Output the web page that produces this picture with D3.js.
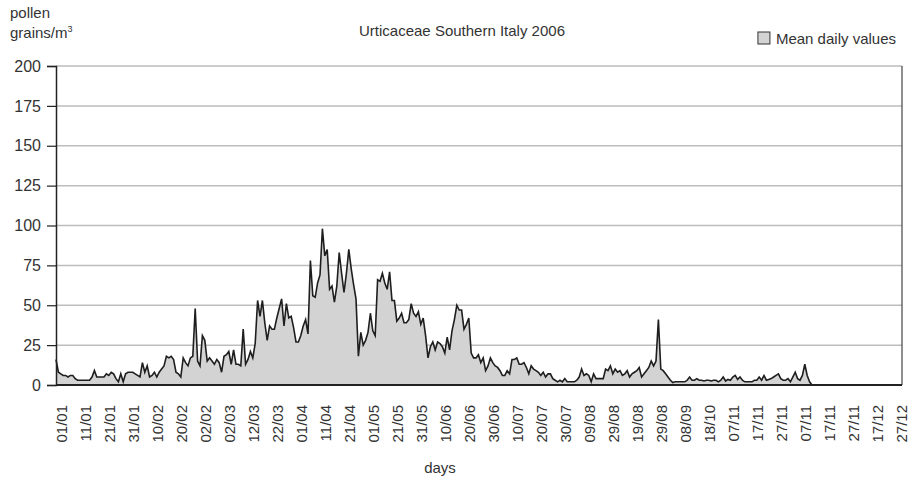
<!DOCTYPE html>
<html>
<head>
<meta charset="utf-8">
<script src="https://cdn.jsdelivr.net/npm/d3@7"></script>
<style>
  body { margin: 0; background: #fff; }
  svg text { font-family: "Liberation Sans", Arial, sans-serif; fill: #333; }
</style>
</head>
<body>
<div id="chart"></div>
<script>
// tick labels as printed under the x axis (one every 10 days)
const tickLabels = ["01/01","11/01","21/01","31/01","10/02","20/02","02/02","02/03","12/03","22/03",
  "01/04","11/04","21/04","01/05","21/05","31/05","10/06","20/06","30/06","10/07",
  "20/07","30/07","09/08","29/08","19/08","29/08","08/09","18/10","07/11","17/11",
  "27/11","07/11","17/11","27/11","17/12","27/12"];

const yTicks = [0, 25, 50, 75, 100, 125, 150, 175, 200];

// mean daily values, pollen grains/m3, day 0 = 01/01
const meanDaily = [
  16, 8, 7, 6, 6, 5, 6, 6, 4, 3,
  3, 3, 3, 3, 3, 5, 9, 5, 5, 5,
  5, 7, 6, 8, 7, 4, 2, 7, 2, 7,
  8, 8, 8, 7, 6, 5, 14, 8, 12, 5,
  6, 8, 5, 8, 10, 12, 18, 17, 18, 16,
  8, 7, 5, 17, 14, 12, 17, 18, 48, 15,
  12, 31, 28, 15, 17, 15, 13, 16, 14, 8,
  18, 19, 21, 13, 22, 13, 13, 12, 35, 13,
  16, 21, 17, 26, 53, 43, 53, 39, 28, 37,
  35, 35, 42, 48, 54, 37, 51, 42, 43, 36,
  27, 27, 31, 37, 41, 32, 78, 56, 55, 64,
  69, 98, 81, 85, 60, 62, 52, 62, 83, 70,
  58, 70, 85, 73, 63, 54, 18, 33, 25, 28,
  33, 45, 34, 31, 66, 65, 70, 64, 60, 71,
  53, 53, 40, 42, 45, 39, 39, 41, 51, 45,
  43, 46, 38, 42, 31, 17, 24, 27, 22, 27,
  26, 24, 20, 30, 22, 34, 41, 50, 47, 47,
  35, 38, 42, 20, 17, 17, 19, 14, 17, 9,
  12, 17, 14, 12, 11, 9, 6, 6, 9, 7,
  16, 16, 17, 13, 13, 14, 11, 7, 12, 10,
  9, 8, 6, 8, 5, 7, 7, 4, 3, 2,
  3, 2, 4, 2, 2, 2, 2, 3, 5, 10,
  6, 7, 6, 2, 7, 4, 4, 4, 4, 10,
  9, 12, 7, 10, 8, 9, 6, 7, 9, 5,
  7, 8, 9, 11, 5, 7, 9, 11, 15, 12,
  15, 41, 10, 9, 7, 5, 3, 1.5, 2, 2,
  2, 2, 2, 3, 5, 3, 3, 4, 3, 3,
  2.5, 3, 3, 2.5, 3, 3, 2, 3, 5, 2.5,
  3.5, 3, 5, 6, 3.5, 5, 3, 2, 2, 2,
  2, 3, 3, 5, 3, 6, 3, 3.5, 4, 5,
  6, 7, 4, 3, 3, 4, 2, 5, 8, 4,
  3, 6, 13, 6, 2, 0
];

const width = 911;
const height = 484;
const margin = { top: 66, right: 9, bottom: 99, left: 56 };
const plotW = width - margin.left - margin.right;
const plotH = height - margin.top - margin.bottom;

const svg = d3.select("#chart")
  .append("svg")
  .attr("width", width)
  .attr("height", height);

// x axis has ~352 day slots across the plot, labels every 10 days
const xScale = d3.scaleLinear()
  .domain([0, 352.5])
  .range([margin.left, margin.left + plotW]);

const yScale = d3.scaleLinear()
  .domain([0, 200])
  .range([margin.top + plotH, margin.top]);

// gridlines
svg.append("g")
  .selectAll("line")
  .data(yTicks.filter(d => d > 0))
  .enter()
  .append("line")
  .attr("x1", margin.left)
  .attr("x2", margin.left + plotW)
  .attr("y1", d => yScale(d))
  .attr("y2", d => yScale(d))
  .attr("stroke", "#bdbdbd")
  .attr("stroke-width", 1.5);

// right border of plot area
svg.append("line")
  .attr("x1", margin.left + plotW)
  .attr("x2", margin.left + plotW)
  .attr("y1", yScale(200))
  .attr("y2", yScale(0))
  .attr("stroke", "#444")
  .attr("stroke-width", 1.2);

// area + line
const area = d3.area()
  .x((d, i) => xScale(i))
  .y0(yScale(0))
  .y1(d => yScale(d));

const line = d3.line()
  .x((d, i) => xScale(i))
  .y(d => yScale(d));

svg.append("path")
  .datum(meanDaily)
  .attr("d", area)
  .attr("fill", "#d3d3d3");

svg.append("path")
  .datum(meanDaily)
  .attr("d", line)
  .attr("fill", "none")
  .attr("stroke", "#1e1e1e")
  .attr("stroke-width", 1.6)
  .attr("stroke-linejoin", "miter");

// y axis
const yAxis = svg.append("g")
  .attr("transform", "translate(" + margin.left + ",0)")
  .call(d3.axisLeft(yScale).tickValues(yTicks).tickSize(9).tickPadding(6));
yAxis.select(".domain").attr("stroke", "#222").attr("stroke-width", 1.5);
yAxis.selectAll(".tick line").attr("stroke", "#222").attr("stroke-width", 1.2);
yAxis.selectAll("text").style("font-size", "16px").attr("fill", "#333");

// x axis baseline
svg.append("line")
  .attr("x1", margin.left)
  .attr("x2", margin.left + plotW)
  .attr("y1", yScale(0))
  .attr("y2", yScale(0))
  .attr("stroke", "#222")
  .attr("stroke-width", 1.8);

// x tick labels, rotated
svg.append("g")
  .selectAll("text")
  .data(tickLabels)
  .enter()
  .append("text")
  .attr("transform", (d, i) => "translate(" + (xScale(i * 10) + 5.5) + "," + 405 + ") rotate(-90)")
  .attr("dy", "0.35em")
  .attr("text-anchor", "end")
  .style("font-size", "15px")
  .text(d => d);

// titles
svg.append("text")
  .attr("x", 462)
  .attr("y", 36)
  .attr("text-anchor", "middle")
  .style("font-size", "15px")
  .text("Urticaceae Southern Italy 2006");

svg.append("text")
  .attr("x", 10)
  .attr("y", 18)
  .style("font-size", "15px")
  .text("pollen");

const yl = svg.append("text")
  .attr("x", 10)
  .attr("y", 38)
  .style("font-size", "15px")
  .text("grains/m");
yl.append("tspan")
  .attr("dy", -6)
  .style("font-size", "9px")
  .text("3");

svg.append("text")
  .attr("x", 440)
  .attr("y", 473)
  .attr("text-anchor", "middle")
  .style("font-size", "15px")
  .text("days");

// legend, right-aligned to the chart edge
const legendText = svg.append("text")
  .attr("x", 896)
  .attr("y", 44)
  .attr("text-anchor", "end")
  .style("font-size", "15px")
  .text("Mean daily values");

const lw = legendText.node().getComputedTextLength();
svg.append("rect")
  .attr("x", 896 - lw - 18)
  .attr("y", 32)
  .attr("width", 12)
  .attr("height", 12)
  .attr("fill", "#d3d3d3")
  .attr("stroke", "#333")
  .attr("stroke-width", 1);
</script>
</body>
</html>
